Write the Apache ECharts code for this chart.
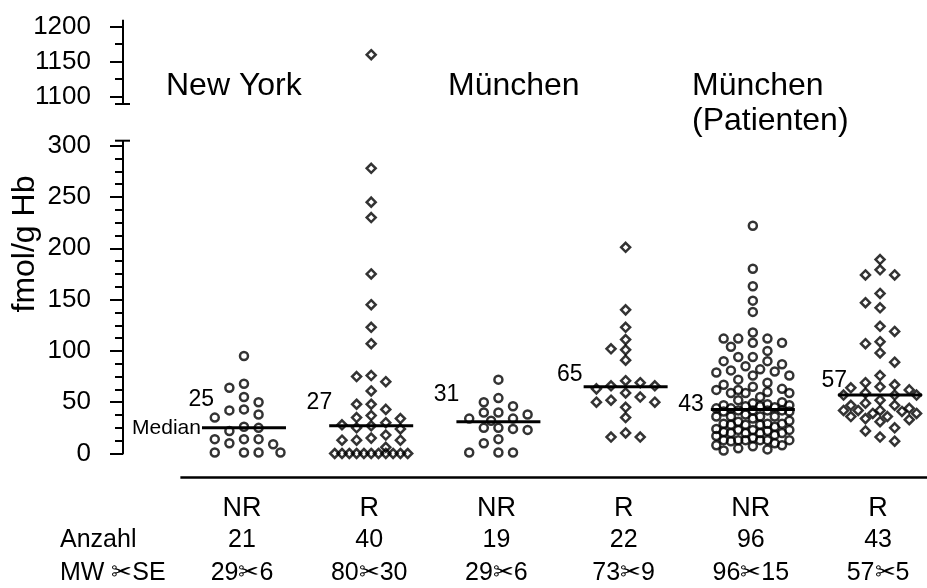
<!DOCTYPE html>
<html><head><meta charset="utf-8">
<script src="https://cdn.jsdelivr.net/npm/echarts@6/dist/echarts.min.js"></script>
<style>html,body{margin:0;padding:0;background:#fff}#c{width:927px;height:588px}</style>
</head><body><div id="c"></div>
<script>
// ---------------- data ----------------
const groupLabels = ['NR', 'R', 'NR', 'R', 'NR', 'R'];
const regionTitles = ['New York', 'München', 'München\n(Patienten)'];
const rowHeaders = ['Anzahl', 'MW ✂SE'];
const anzahl = ['21', '40', '19', '22', '96', '43'];
const mwSe = ['29✂6', '80✂30', '29✂6', '73✂9', '96✂15', '57✂5'];
const medians = [25, 27, 31, 65, 43, 57];
const yAxisTitle = 'fmol/g Hb';
const medianWord = 'Median';

const newYorkNR = [95, 68, 64, 55, 50, 43, 42, 38, 35, 26, 25, 22, 14, 14, 14, 10, 9, 1, 1, 1, 1];
const newYorkR = [1160, 278, 245, 230, 175, 145, 123, 107, 76, 75, 70, 61, 48, 48, 43, 37, 35, 34,
  30, 28, 27, 25, 24, 18, 15, 13, 13, 13, 6, 0, 0, 0, 0, 0, 0, 0, 0, 0, 0, 0];
const muenchenNR = [72, 54, 50, 46, 40, 40, 38, 34, 34, 32, 25, 25, 24, 23, 14, 10, 1, 1, 1];
const muenchenR = [201, 140, 123, 111, 102, 101, 91, 71, 69, 66, 66, 63, 59, 55, 52, 50, 50, 45, 35, 20, 16, 16];
const patientenNR = [222, 180, 163, 149, 138,
  118, 112, 112, 112, 108, 108, 104, 100, 94, 94, 90, 90, 87, 85, 82, 81, 80, 79, 76, 76, 72,
  69, 67, 65, 63, 62, 62, 60, 59, 59, 59, 55, 52, 50,
  49, 48, 47, 47, 46, 46, 45, 44, 44,
  42, 42, 42, 42, 41, 41, 38, 36, 36, 36, 36, 34, 32,
  31, 29, 29, 29, 28, 28, 28, 26, 24, 23, 23, 23, 22, 21,
  20, 20, 20, 20, 18, 17, 15, 13, 13, 13, 13, 13, 13, 12, 10, 8, 8, 7, 5, 4, 3];
const patientenR = [189, 179, 174, 174, 156, 147, 142, 124, 119, 109, 107, 98, 89, 76, 69, 67, 65, 64, 62, 59,
  57, 57, 57, 52, 49, 47, 47, 44, 42, 42, 42, 41, 39, 39, 36, 36, 34, 33, 31, 25, 22, 16, 12];

const groupValues = [newYorkNR, newYorkR, muenchenNR, muenchenR, patientenNR, patientenR];

// ---------------- layout / style ----------------
const FONT = '"Liberation Sans", Arial, Helvetica, sans-serif';
const X_MIN = -0.951, X_MAX = 5.369;
const BREAK_LOW = 300;
const HALF_STEP = 7.3;   // px, swarm half column step
const MAX_K = 5;         // max half steps from centre
const COLL = 9.5;        // px, collision distance
const MED_HALF = 42;     // px, half width of median bar
const medianLabelShift = [[12, -28], [3, -23], [3, -27], [-1, -12], [-7, -5], [9, -14]];
const titleX = [166, 448, 692];

const chart = echarts.init(document.getElementById('c'), null, {renderer: 'canvas'});

function yAxisCfg(grid, min, max, split) {
  return {
    gridIndex: grid, type: 'value', min: min, max: max, interval: 50,
    axisLine: {show: true, onZero: false, lineStyle: {color: '#000', width: 2}},
    axisTick: {show: true, length: 13, lineStyle: {color: '#000', width: 2}},
    minorTick: {show: true, splitNumber: split, length: 8, lineStyle: {color: '#000', width: 2}},
    axisLabel: {color: '#000', fontSize: 26, fontFamily: FONT, margin: 32, formatter: v => String(v)},
    splitLine: {show: false}, minorSplitLine: {show: false}
  };
}

chart.setOption({
  animation: false,
  backgroundColor: '#fff',
  grid: [
    {left: 123, right: 0, top: 26.7, height: 70, outerBoundsMode: 'none', containLabel: false},
    {left: 123, right: 0, top: 145.7, height: 307.8, outerBoundsMode: 'none', containLabel: false}
  ],
  xAxis: [
    {gridIndex: 0, type: 'value', min: X_MIN, max: X_MAX, show: false},
    {gridIndex: 1, type: 'value', min: X_MIN, max: X_MAX, show: false}
  ],
  yAxis: [yAxisCfg(0, 1100, 1200, 2), yAxisCfg(1, 0, 300, 4)]
});

const pxX = v => chart.convertToPixel({xAxisIndex: 1}, v);
const pxPerX = pxX(1) - pxX(0);
const pxY = v => v > BREAK_LOW ? chart.convertToPixel({yAxisIndex: 0}, v) : chart.convertToPixel({yAxisIndex: 1}, v);

function swarmOffsets(values) {
  const idx = values.map((_, i) => i).sort((a, b) => values[b] - values[a]);
  const placed = [];
  const res = new Array(values.length).fill(0);
  let nNeg = 0, nPos = 0;
  const minDist = (x, y) => placed.reduce((m, p) => Math.min(m, Math.hypot(p.x - x, p.y - y)), Infinity);
  idx.forEach(i => {
    const y = pxY(values[i]);
    const tryLevels = ks => {
      for (const a of ks) {
        if (a === 0) { if (minDist(0, y) >= COLL) return 0; continue; }
        const l = minDist(-a * HALF_STEP, y) >= COLL, r = minDist(a * HALF_STEP, y) >= COLL;
        if (l && r) return nNeg <= nPos ? -a : a;
        if (l) return -a;
        if (r) return a;
      }
      return null;
    };
    let k = tryLevels([0, 2, 4]);
    if (k === null) k = tryLevels([1, 3, 5]);
    if (k === null) {
      let best = -1;
      for (let c = -MAX_K; c <= MAX_K; c++) {
        const md = minDist(c * HALF_STEP, y);
        if (md > best + 1e-6 || (Math.abs(md - best) < 1e-6 && Math.abs(c) < Math.abs(k))) { best = md; k = c; }
      }
    }
    if (k < 0) nNeg++; else if (k > 0) nPos++;
    placed.push({x: k * HALF_STEP, y: y});
    res[i] = k * HALF_STEP;
  });
  return res;
}

const circLow = [], diaLow = [], diaHigh = [], circHigh = [];
groupValues.forEach((vals, g) => {
  const offs = swarmOffsets(vals);
  vals.forEach((v, i) => {
    const pt = [g + offs[i] / pxPerX, v];
    const isR = groupLabels[g] === 'R';
    if (v > BREAK_LOW) (isR ? diaHigh : circHigh).push(pt);
    else (isR ? diaLow : circLow).push(pt);
  });
});

const markerStyle = {color: 'rgba(0,0,0,0)', borderColor: '#000', borderWidth: 2.5};
const txt = (text, x, y, size, align, valign, extra, lh) => Object.assign({
  type: 'text', x: x, y: y, silent: true,
  style: Object.assign({text: text, font: size + 'px ' + FONT, fill: '#000',
    align: align, verticalAlign: valign, textAlign: align, textVerticalAlign: valign},
    lh ? {lineHeight: lh} : {})
}, extra || {});

const axX = chart.convertToPixel({xAxisIndex: 1}, X_MIN);
const up1200 = chart.convertToPixel({yAxisIndex: 0}, 1200);
const up1100 = chart.convertToPixel({yAxisIndex: 0}, 1100);
const low300 = chart.convertToPixel({yAxisIndex: 1}, 300);
const low0 = chart.convertToPixel({yAxisIndex: 1}, 0);
const ln = (x1, y1, x2, y2, w) => ({type: 'line', silent: true,
  shape: {x1: x1, y1: y1, x2: x2, y2: y2}, style: {stroke: '#000', lineWidth: w}});
const graphics = [
  ln(axX, up1200 - 7, axX, up1200, 2),
  ln(axX, up1100, axX, up1100 + 7.3, 2),
  ln(axX - 8, up1100 + 7.3, axX + 7, up1100 + 7.3, 2),
  ln(axX, low300, axX, low300 - 5, 2),
  ln(axX - 8, low300 - 5, axX + 7, low300 - 5, 2),
  ln(pxX(-0.5), low0 + 24, 927, low0 + 24, 2.5),
  txt(yAxisTitle, 25, 244, 32, 'center', 'middle', {rotation: Math.PI / 2})
];
regionTitles.forEach((t, r) => {
  graphics.push(txt(t, titleX[r], 69, 32, 'left', 'top', null, 35));
});
groupLabels.forEach((lab, g) => {
  const x = pxX(g) - 2;
  graphics.push(txt(lab, x, low0 + 55, 27, 'center', 'middle'));
  graphics.push(txt(anzahl[g], x, low0 + 86.5, 25, 'center', 'middle'));
  graphics.push(txt(mwSe[g], x, low0 + 120, 25, 'center', 'middle'));
});
graphics.push(txt(rowHeaders[0], 60, low0 + 86.5, 25, 'left', 'middle'));
graphics.push(txt(rowHeaders[1], 60, low0 + 120, 25, 'left', 'middle'));

chart.setOption({
  graphic: graphics,
  series: [
    {type: 'scatter', xAxisIndex: 1, yAxisIndex: 1, symbol: 'circle', symbolSize: 8, clip: false, silent: true,
      itemStyle: markerStyle, data: circLow},
    {type: 'scatter', xAxisIndex: 1, yAxisIndex: 1, symbol: 'diamond', symbolSize: 9, clip: false, silent: true,
      itemStyle: markerStyle, data: diaLow},
    {type: 'scatter', xAxisIndex: 0, yAxisIndex: 0, symbol: 'diamond', symbolSize: 9, clip: false, silent: true,
      itemStyle: markerStyle, data: diaHigh},
    {type: 'scatter', xAxisIndex: 0, yAxisIndex: 0, symbol: 'circle', symbolSize: 8, clip: false, silent: true,
      itemStyle: markerStyle, data: circHigh},
    {type: 'custom', xAxisIndex: 1, yAxisIndex: 1, silent: true, clip: false,
      data: medians.map((m, g) => [g, m]),
      renderItem: function (params, api) {
        const m = api.value(1);
        const c = api.coord([api.value(0), m]);
        const sh = medianLabelShift[params.dataIndex];
        const kids = [
          {type: 'line', shape: {x1: c[0] - MED_HALF, y1: c[1], x2: c[0] + MED_HALF, y2: c[1]},
            style: {stroke: '#000', lineWidth: 3}},
          {type: 'text', x: c[0] - MED_HALF + sh[0], y: c[1] + sh[1],
            style: {text: String(m), font: '23px ' + FONT, fill: '#000', align: 'right', verticalAlign: 'middle',
              textAlign: 'right', textVerticalAlign: 'middle'}}
        ];
        if (params.dataIndex === 0) {
          kids.push({type: 'text', x: c[0] - MED_HALF - 1, y: c[1],
            style: {text: medianWord, font: '21px ' + FONT, fill: '#000', align: 'right', verticalAlign: 'middle',
              textAlign: 'right', textVerticalAlign: 'middle'}});
        }
        return {type: 'group', children: kids};
      }}
  ]
});
</script></body></html>
